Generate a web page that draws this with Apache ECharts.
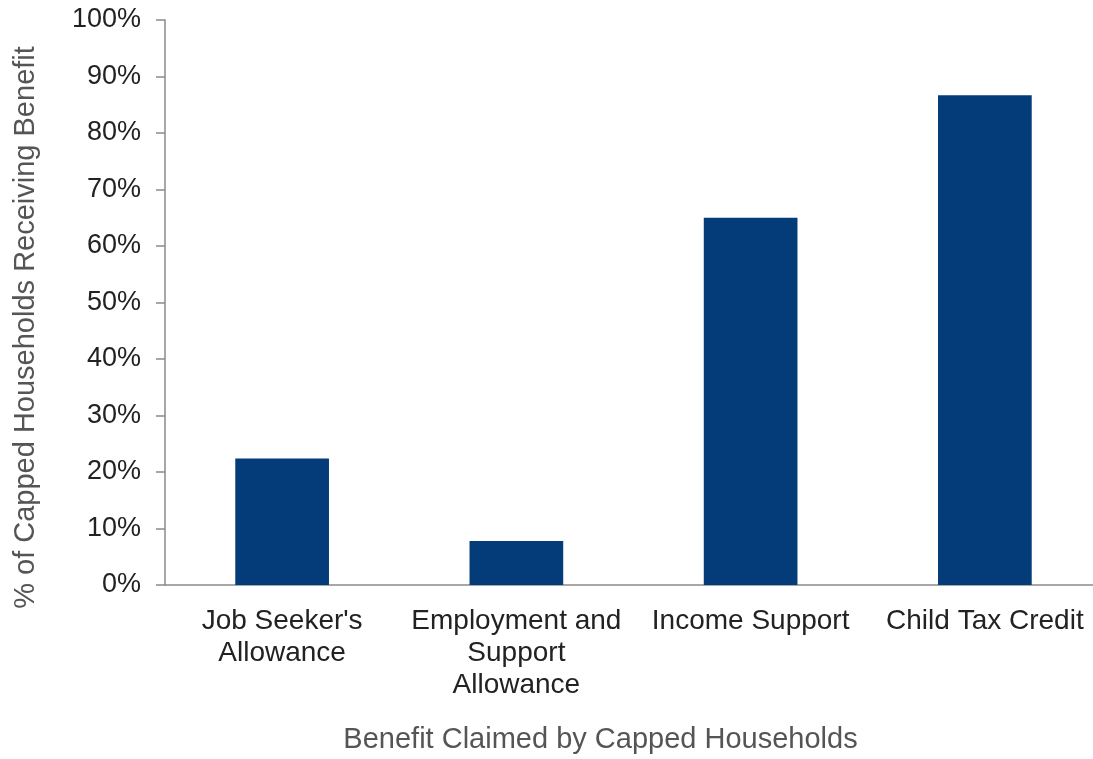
<!DOCTYPE html>
<html>
<head>
<meta charset="utf-8">
<script src="https://cdn.jsdelivr.net/npm/echarts@6/dist/echarts.min.js"></script>
<style>
html,body{margin:0;padding:0;background:#fff;overflow:hidden;width:1093px;height:759px;}
#c{width:1102px;height:759px;}
</style>
</head>
<body>
<div id="c"></div>
<script>
const categories = ["Job Seeker's\nAllowance", "Employment and\nSupport\nAllowance", "Income Support", "Child Tax Credit"];
const values = [22.4, 7.8, 65.0, 86.7];
const yTicks = { min: 0, max: 100, interval: 10 };
const xTitle = "Benefit Claimed by Capped Households";
const yTitle = "% of Capped Households Receiving Benefit";

const chart = echarts.init(document.getElementById('c'), null, { renderer: 'canvas' });
chart.setOption({
  animation: false,
  backgroundColor: '#ffffff',
  grid: { left: 165, right: 0, top: 20, bottom: 173, containLabel: false },
  xAxis: {
    type: 'category',
    data: categories,
    name: xTitle,
    nameLocation: 'middle',
    nameGap: 140,
    nameTextStyle: { fontFamily: 'Liberation Sans, Arial, sans-serif', fontSize: 29, color: '#555555', padding: [0, 66, 0, 0] },
    axisLine: { lineStyle: { color: '#8a8a8a', width: 1.5 } },
    axisTick: { show: false },
    axisLabel: { interval: 0, margin: 20, fontFamily: 'Liberation Sans, Arial, sans-serif', fontSize: 28, lineHeight: 32, color: '#222222' }
  },
  yAxis: {
    type: 'value',
    min: yTicks.min, max: yTicks.max, interval: yTicks.interval,
    name: yTitle,
    nameLocation: 'middle',
    nameGap: 125,
    nameRotate: 90,
    nameTextStyle: { fontFamily: 'Liberation Sans, Arial, sans-serif', fontSize: 29, color: '#555555', padding: [0, 50, 0, 0] },
    axisLine: { show: true, lineStyle: { color: '#8a8a8a', width: 1.5 } },
    axisTick: { show: true, length: 9, lineStyle: { color: '#8a8a8a', width: 1.5 } },
    splitLine: { show: false },
    axisLabel: { margin: 24, fontFamily: 'Liberation Sans, Arial, sans-serif', fontSize: 27, color: '#222222', formatter: '{value}%' }
  },
  series: [{
    type: 'bar',
    data: values,
    barWidth: '40%',
    itemStyle: { color: '#033c79' }
  }]
});
</script>
</body>
</html>
